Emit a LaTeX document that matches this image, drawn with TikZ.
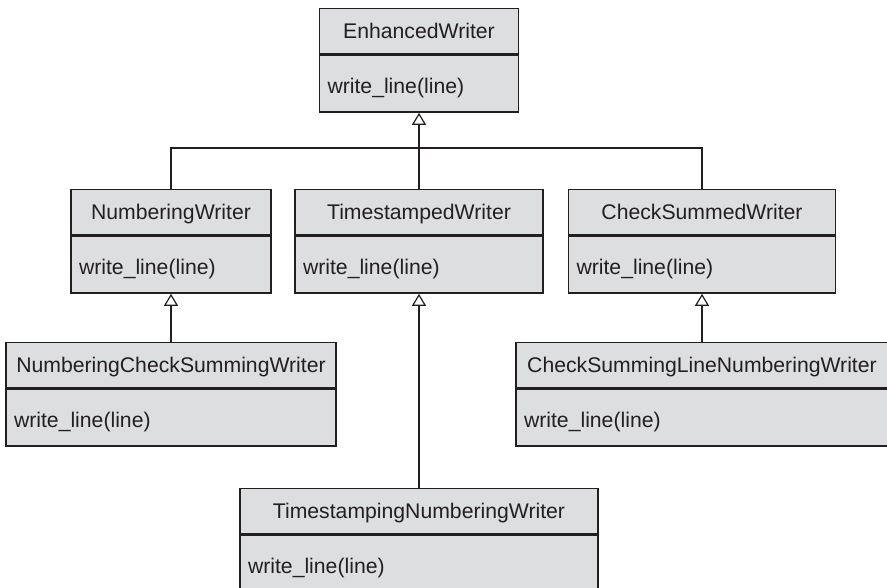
\documentclass[tikz,border=0pt]{standalone}
\usepackage{fontspec}
\setmainfont{Liberation Sans}
\usepackage{tikz}
\usetikzlibrary{arrows.meta}
\definecolor{boxgray}{RGB}{221,222,224}
\definecolor{ink}{RGB}{35,31,32}
\tikzset{
  clshead/.style={draw=ink, fill=boxgray, line width=1.4pt, anchor=north,
    minimum height=45pt, inner sep=0pt, text=ink,
    text height=15.2pt, text depth=0pt,
    font=\fontsize{21.2}{25}\selectfont},
  clsbody/.style={clshead, minimum height=57pt, align=left, inner xsep=8pt,
    text height=19pt},
  link/.style={draw=ink, line width=1.2pt},
  isa/.style={link, -{Triangle[open,width=14pt,length=12pt]}}
}
% name, x, top, width, title
\newcommand{\umlclass}[5]{%
  \node[clshead, minimum width=#4pt] (#1) at (#2,#3) {#5};
  \pgfmathsetmacro{\bodyw}{#4-16}
  \node[clsbody, text width=\bodyw pt] (#1-b) at (#1.south) {write\_line(line)};
}
\begin{document}
\begin{tikzpicture}[x=1pt,y=-1pt]
\useasboundingbox (0,0) rectangle (887,587);
\clip (0,0) rectangle (887,587);
\umlclass{ew}{419}{8}{199}{EnhancedWriter}
\umlclass{nw}{171}{189}{200}{NumberingWriter}
\umlclass{tw}{419}{189}{248}{TimestampedWriter}
\umlclass{csw}{702}{189}{267}{CheckSummedWriter}
\umlclass{ncsw}{171}{342}{330}{NumberingCheckSummingWriter}
\umlclass{cslnw}{702}{342}{372}{CheckSummingLineNumberingWriter}
\umlclass{tnw}{419}{488}{358}{TimestampingNumberingWriter}
\coordinate (bar) at (419,148);
\draw[isa] (tw.north) -- (ew-b.south);
\draw[link] (nw.north) |- (bar) -| (csw.north);
\draw[isa] (ncsw.north) -- (nw-b.south);
\draw[isa] (cslnw.north) -- (csw-b.south);
\draw[isa] (tnw.north) -- (tw-b.south);
\end{tikzpicture}
\end{document}
